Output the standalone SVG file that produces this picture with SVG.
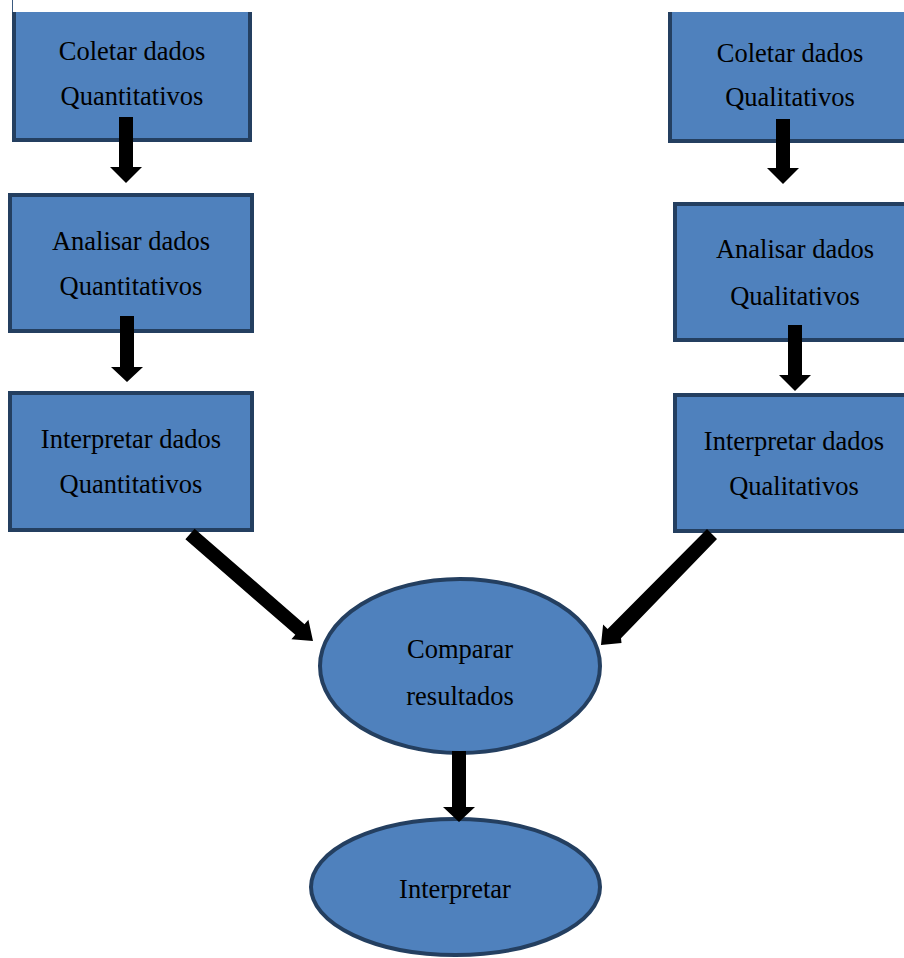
<svg xmlns="http://www.w3.org/2000/svg" width="904" height="958" viewBox="0 0 904 958">
<style>
.box{fill:#4F81BD;stroke:#243F60;stroke-width:4}
.fill{fill:#4F81BD}
.edge{fill:none;stroke:#243F60;stroke-width:4}
.t{font-family:"Liberation Serif","Times New Roman",serif;font-size:26.5px;fill:#000;text-anchor:middle}
.arr{fill:#000}
</style>
<rect width="904" height="958" fill="#fff"/>
<line x1="12.5" y1="0" x2="12.5" y2="12" stroke="#3A5A80" stroke-width="1"/>
<g id="coletar-quant">
<rect class="fill" x="14" y="12" width="236" height="128"/>
<path class="edge" d="M14 12 V140 H250 V12"/>
<text class="t" x="132" y="60">Coletar dados</text>
<text class="t" x="132" y="105">Quantitativos</text>
</g>
<g id="analisar-quant">
<rect class="box" x="10" y="195" width="242" height="136"/>
<text class="t" x="131" y="250">Analisar dados</text>
<text class="t" x="131" y="295">Quantitativos</text>
</g>
<g id="interpretar-quant">
<rect class="box" x="10" y="393" width="242" height="137"/>
<text class="t" x="131" y="448">Interpretar dados</text>
<text class="t" x="131" y="493">Quantitativos</text>
</g>
<g id="coletar-qual">
<rect class="fill" x="670" y="12" width="250" height="129"/>
<path class="edge" d="M670 12 V141 H920"/>
<text class="t" x="790" y="62">Coletar dados</text>
<text class="t" x="790" y="106">Qualitativos</text>
</g>
<g id="analisar-qual">
<rect class="box" x="675" y="204" width="250" height="136"/>
<text class="t" x="795" y="258">Analisar dados</text>
<text class="t" x="795" y="305">Qualitativos</text>
</g>
<g id="interpretar-qual">
<rect class="box" x="675" y="395" width="250" height="136"/>
<text class="t" x="794" y="450">Interpretar dados</text>
<text class="t" x="794" y="495">Qualitativos</text>
</g>
<g id="comparar">
<ellipse class="box" cx="460" cy="666" rx="140" ry="87"/>
<text class="t" x="460" y="658">Comparar</text>
<text class="t" x="460" y="705">resultados</text>
</g>
<g id="interpretar">
<ellipse class="box" cx="455.5" cy="887" rx="144.5" ry="68"/>
<text class="t" x="455" y="898">Interpretar</text>
</g>
<g id="connectors">
<polygon class="arr" points="119,117 133,117 133,167 142,167 126,183 110,167 119,167"/>
<polygon class="arr" points="120,316 134,316 134,367 143,367 127,382 111,367 120,367"/>
<polygon class="arr" points="776,119 790,119 790,168 799,168 783,184 767,168 776,168"/>
<polygon class="arr" points="788,325 802,325 802,375 811,375 795,391 779,375 788,375"/>
<polygon class="arr" points="452,751 466,751 466,807 475,807 459,822 443,807 452,807"/>
<polygon class="arr" points="185.4,539.3 194.6,528.7 304.5,624.2 308.4,619.7 313,641 291.4,639.3 295.3,634.8"/>
<polygon class="arr" points="707,529 717,539 621,638.3 621.5,642.9 601,645 603.1,624.5 607.6,629"/>
</g>
</svg>
